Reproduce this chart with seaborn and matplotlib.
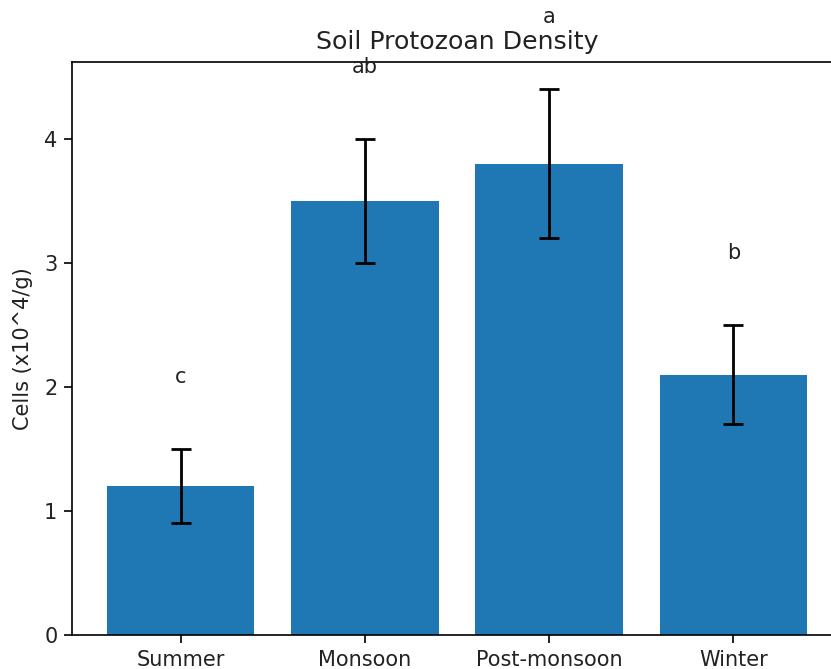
"""
Bar chart of soil protozoan density per season, with error bars and group letters.
"""

import matplotlib
matplotlib.use("Agg")
import matplotlib.pyplot as plt
import pandas as pd
import seaborn as sns

### Data ###

seasons = ["Summer", "Monsoon", "Post-monsoon", "Winter"]
density = [1.2, 3.5, 3.8, 2.1]
error = [0.3, 0.5, 0.6, 0.4]
letters = ["c", "ab", "a", "b"]

### Plot ###

df = pd.DataFrame({"Season": seasons, "Density": density})

fig = plt.figure(figsize=(8.31, 6.69), dpi=100)
ax = fig.add_axes([72 / 831, 34 / 669, 770 / 831, 573 / 669])

sns.barplot(data=df, x="Season", y="Density", color="#1f77b4",
            saturation=1, errorbar=None, width=0.8, ax=ax)
ax.errorbar(range(len(seasons)), density, yerr=error, fmt="none",
            ecolor="black", elinewidth=2, capsize=7.5, capthick=2)

for i, (val, err, lab) in enumerate(zip(density, error, letters)):
    ax.text(i, val + err + 0.5, lab, ha="center", va="bottom",
            fontsize=15, color="#222222")

ax.set_xlim(-0.59, 3.59)
ax.set_ylim(0, 4.62)
ax.set_xlabel("")
ax.set_ylabel("Cells (x10^4/g)", fontsize=15, labelpad=8, color="#222222")
ax.set_title("Soil Protozoan Density", fontsize=18.2, pad=9, color="#222222")
ax.tick_params(labelsize=15, length=5.5, width=1.2, pad=5, labelcolor="#222222")
for spine in ax.spines.values():
    spine.set_linewidth(1.2)

plt.savefig("out.png", dpi=100)
